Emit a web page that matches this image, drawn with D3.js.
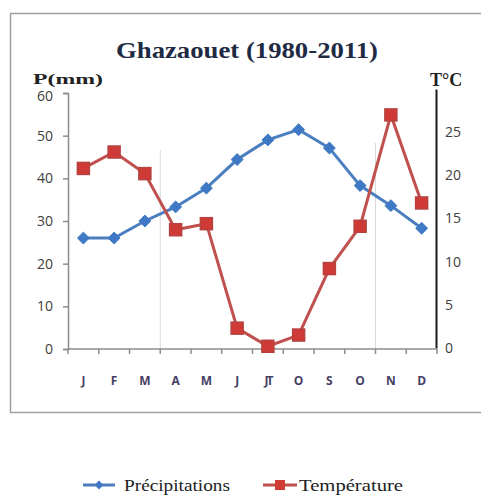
<!DOCTYPE html>
<html>
<head>
<meta charset="utf-8">
<script src="https://cdn.jsdelivr.net/npm/d3@7"></script>
<style>
  body { margin: 0; background: #fff; }
</style>
</head>
<body>
<svg id="chart"></svg>
<script>
const months = ['J', 'F', 'M', 'A', 'M', 'J', 'JT', 'O', 'S', 'O', 'N', 'D'];
const precip = [26, 26, 30, 33.3, 37.7, 44.4, 49, 51.4, 47.1, 38.3, 33.6, 28.3];
const temp = [20.8, 22.7, 20.2, 13.7, 14.4, 2.3, 0.2, 1.5, 9.2, 14.1, 27, 16.8];
const leftTicks = [0, 10, 20, 30, 40, 50, 60];
const rightTicks = [0, 5, 10, 15, 20, 25];

const width = 481, height = 495;
const svg = d3.select('#chart').attr('width', width).attr('height', height);

// outer frame
svg.append('rect')
  .attr('x', 10.5).attr('y', 13.5)
  .attr('width', 490).attr('height', 399)
  .attr('fill', 'none').attr('stroke', '#a0a0a0').attr('stroke-width', 1.5);

const x = d3.scaleBand().domain(d3.range(months.length)).range([68, 437]);
const yL = d3.scaleLinear().domain([0, 60]).range([349, 93]);
const yR = d3.scaleLinear().domain([0, 30]).range([348, 89]);
const cx = i => x(i) + x.bandwidth() / 2;

// title
svg.append('text')
  .attr('x', 247).attr('y', 58)
  .attr('text-anchor', 'middle')
  .attr('font-family', 'Liberation Serif')
  .attr('font-weight', 'bold')
  .attr('font-size', 23)
  .attr('textLength', 262)
  .attr('lengthAdjust', 'spacingAndGlyphs')
  .attr('fill', '#1f2a44')
  .text('Ghazaouet (1980-2011)');

svg.append('text')
  .attr('x', 33).attr('y', 84)
  .attr('font-family', 'Liberation Serif').attr('font-weight', 'bold')
  .attr('font-size', 15).attr('fill', '#222')
  .attr('textLength', 70).attr('lengthAdjust', 'spacingAndGlyphs')
  .text('P(mm)');

svg.append('text')
  .attr('x', 430).attr('y', 86)
  .attr('font-family', 'Liberation Serif').attr('font-weight', 'bold')
  .attr('font-size', 18).attr('fill', '#222')
  .text('T°C');

// partial vertical gridlines
[3, 10].forEach(i => {
  svg.append('line')
    .attr('x1', x(i)).attr('x2', x(i))
    .attr('y1', i === 3 ? 150 : 143).attr('y2', 349)
    .attr('stroke', '#d9d9d9').attr('stroke-width', 1);
});

// left axis
const gL = svg.append('g')
  .attr('transform', 'translate(68,0)')
  .call(d3.axisLeft(yL).tickValues(leftTicks).tickSize(5).tickPadding(10));
gL.select('.domain').attr('stroke', '#8c8c8c').attr('stroke-width', 1.5);
gL.selectAll('.tick line').attr('stroke', '#8c8c8c').attr('stroke-width', 1.5);
gL.selectAll('text')
  .attr('font-family', 'Open Sans').attr('font-size', 14)
  .attr('fill', '#404040');
gL.selectAll('.tick text').filter(d => d === 60).attr('dy', '0.55em');

// right axis
const gR = svg.append('g')
  .attr('transform', 'translate(436,0)')
  .call(d3.axisRight(yR).tickValues(rightTicks).tickSize(0).tickPadding(9));
gR.select('.domain').attr('stroke', '#1a1a1a').attr('stroke-width', 2);
gR.selectAll('text')
  .attr('font-family', 'Open Sans').attr('font-size', 14)
  .attr('fill', '#404040');

// x axis
const gX = svg.append('g').attr('transform', 'translate(0,349)');
gX.append('line')
  .attr('x1', 68).attr('x2', 437)
  .attr('stroke', '#8c8c8c').attr('stroke-width', 1.5);
gX.selectAll('line.tk')
  .data(d3.range(months.length + 1))
  .join('line')
  .attr('class', 'tk')
  .attr('x1', i => i < months.length ? x(i) : 437)
  .attr('x2', i => i < months.length ? x(i) : 437)
  .attr('y1', 0).attr('y2', 5)
  .attr('stroke', '#8c8c8c').attr('stroke-width', 1.5);
gX.selectAll('text')
  .data(months)
  .join('text')
  .attr('x', (d, i) => cx(i))
  .attr('y', 36)
  .attr('text-anchor', 'middle')
  .attr('font-family', 'Open Sans').attr('font-weight', 'bold')
  .attr('font-size', 12).attr('fill', '#463f63')
  .attr('letter-spacing', (d) => d === 'JT' ? -2 : 0)
  .text(d => d);

// precipitation line (blue)
const blue = '#4a7ebf';
svg.append('path')
  .datum(precip)
  .attr('fill', 'none').attr('stroke', blue).attr('stroke-width', 3)
  .attr('d', d3.line().x((d, i) => cx(i)).y(d => yL(d)));
svg.append('g').selectAll('path')
  .data(precip)
  .join('path')
  .attr('transform', (d, i) => `translate(${cx(i)},${yL(d)})`)
  .attr('d', d3.symbol(d3.symbolDiamond2, 90))
  .attr('fill', '#3f78c4').attr('stroke', '#3f78c4').attr('stroke-width', 1);

// temperature line (red)
const red = '#c0504d';
svg.append('path')
  .datum(temp)
  .attr('fill', 'none').attr('stroke', red).attr('stroke-width', 3)
  .attr('d', d3.line().x((d, i) => cx(i)).y(d => yR(d)));
svg.append('g').selectAll('rect')
  .data(temp)
  .join('rect')
  .attr('x', (d, i) => cx(i) - 6)
  .attr('y', d => yR(d) - 6)
  .attr('width', 12).attr('height', 12)
  .attr('fill', '#cf3a36').attr('stroke', '#b5423f').attr('stroke-width', 1.5);

// legend
const leg = svg.append('g').attr('font-family', 'Liberation Serif').attr('font-size', 17).attr('fill', '#222');
leg.append('line').attr('x1', 83).attr('x2', 115).attr('y1', 485).attr('y2', 485)
  .attr('stroke', blue).attr('stroke-width', 3);
leg.append('path').attr('transform', 'translate(99,485)')
  .attr('d', d3.symbol(d3.symbolDiamond2, 50)).attr('fill', '#3f78c4');
leg.append('text').attr('x', 124).attr('y', 491)
  .attr('textLength', 106).attr('lengthAdjust', 'spacingAndGlyphs').text('Précipitations');
leg.append('line').attr('x1', 263).attr('x2', 297).attr('y1', 485).attr('y2', 485)
  .attr('stroke', red).attr('stroke-width', 3);
leg.append('rect').attr('x', 275).attr('y', 480).attr('width', 10).attr('height', 10)
  .attr('fill', '#cf3a36');
leg.append('text').attr('x', 299).attr('y', 491)
  .attr('textLength', 104).attr('lengthAdjust', 'spacingAndGlyphs').text('Température');
</script>
</body>
</html>
